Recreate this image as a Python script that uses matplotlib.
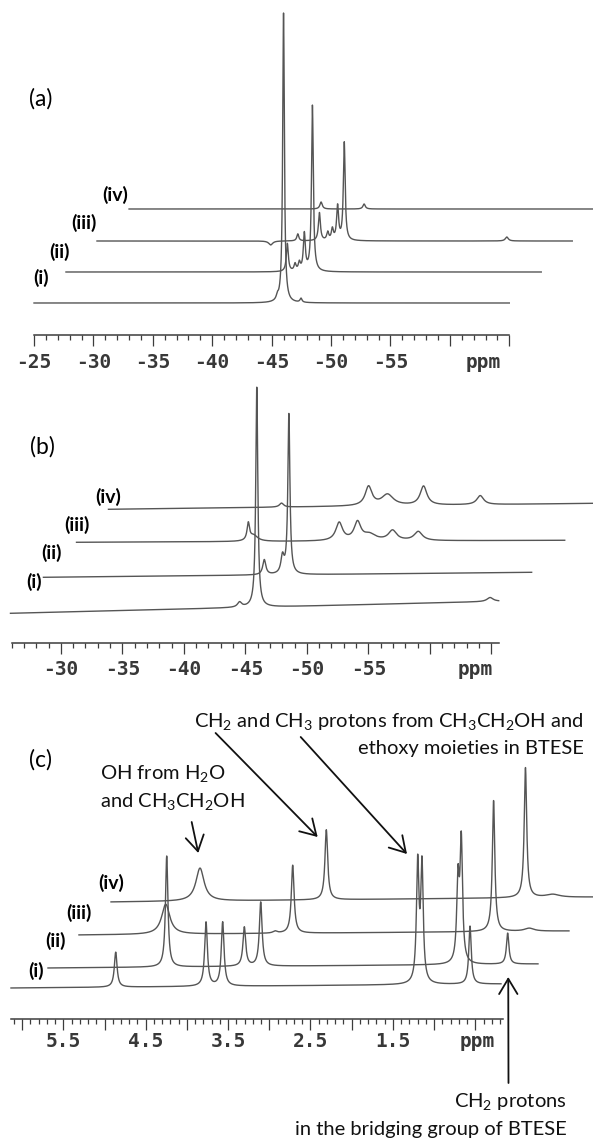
import numpy as np
import matplotlib.pyplot as plt
from matplotlib.ticker import NullFormatter

plt.rcParams['font.family'] = ['Lato', 'DejaVu Sans']
plt.rcParams['mathtext.fontset'] = 'custom'
plt.rcParams['mathtext.rm'] = 'Lato'
plt.rcParams['mathtext.it'] = 'Lato:italic'
plt.rcParams['mathtext.bf'] = 'Lato:bold'

W, H = 593, 1141
TRACE = '#555555'
AXIS = '#3c3c3c'
MONO = 'DejaVu Sans Mono'
names = ['(i)', '(ii)', '(iii)', '(iv)']

# ---- (a) 29Si spectra ----
a_range = (-25.0, -65.0)
a_shift = [0.0, 2.69, 5.30, 8.0]      # ppm stagger of each trace
a_base = [32, 63, 94, 126]            # vertical stagger
a_drift = [0, 0, 0, 0]
a_peaks = [   # (position ppm, height, half width ppm)
    [(-46.00, 290, 0.085), (-45.48, 4, 0.1), (-47.47, 4, 0.1)],
    [(-43.63, 28, 0.1), (-44.28, 7, 0.1), (-44.64, 8, 0.1),
     (-45.06, 37, 0.1), (-45.74, 166, 0.09)],
    [(-39.62, -4, 0.2), (-41.90, 7, 0.1), (-43.72, 28, 0.1), (-44.42, 8, 0.1),
     (-44.81, 11, 0.1), (-45.25, 34, 0.1), (-45.81, 98, 0.09), (-59.49, 4, 0.15)],
    [(-41.16, 7, 0.12), (-44.78, 5, 0.12)],
]
a_labels = ['-25', '-30', '-35', '-40', '-45', '-50', '-55']

# ---- (b) 29Si spectra ----
b_range = (-25.9, -65.6)
b_shift = [0.0, 2.68, 5.37, 7.97]
b_base = [30, 66, 101, 134]
b_drift = [12, 5, 2, 6]
b_peaks = [
    [(-45.93, 220, 0.1), (-44.53, 5, 0.2), (-64.9, 4, 0.3)],
    [(-43.86, 15, 0.15), (-45.34, 17, 0.15), (-45.86, 160, 0.1)],
    [(-39.87, 17, 0.12), (-40.30, 6, 0.4), (-47.26, 18, 0.33), (-48.75, 18, 0.33),
     (-49.73, 6, 0.6), (-51.60, 10, 0.4), (-53.69, 9, 0.4)],
    [(-39.97, 4, 0.2), (-47.05, 19, 0.33), (-48.59, 11, 0.57),
     (-51.52, 19, 0.33), (-56.13, 9, 0.33)],
]
b_labels = ['-30', '-35', '-40', '-45', '-50', '-55']

# ---- (c) 1H spectra ----
c_range = (6.135, 0.188)
c_shift = [0.0, 0.449, 0.825, 1.214]
c_base = [31, 51, 84, 117]
c_drift = [4, 4, 4, 5]
c_peaks = [
    [(4.864, 35, 0.02), (3.768, 64, 0.02), (3.566, 64, 0.02),
     (1.199, 118, 0.018), (1.147, 116, 0.018), (0.564, 58, 0.018)],
    [(4.694, 111, 0.018), (3.752, 39, 0.02), (3.553, 64, 0.02),
     (1.119, 120, 0.018), (1.159, 80, 0.018), (0.556, 31, 0.018)],
    [(5.082, 30, 0.06), (3.755, 2, 0.03), (3.541, 68, 0.02),
     (1.103, 131, 0.018), (0.670, 3, 0.07)],
    [(5.055, 33, 0.06), (3.522, 70, 0.02), (1.105, 130, 0.018), (0.774, 3, 0.1)],
]
c_labels = ['5.5', '4.5', '3.5', '2.5', '1.5']


def px(x, y):
    return x / W, 1 - y / H


def spectrum(x, peaks):
    y = np.zeros_like(x)
    for pos, h, w in peaks:
        y += h / (1 + ((x - pos) / w) ** 2)
    return y


def panel(left, right, axis_y, top, xlim):
    ax = fig.add_axes([left / W, 1 - axis_y / H, (right - left) / W, (axis_y - top) / H])
    ax.set_xlim(*xlim)
    ax.set_ylim(0, axis_y - top)
    ax.patch.set_visible(False)
    for s in ['top', 'right', 'left']:
        ax.spines[s].set_visible(False)
    ax.spines['bottom'].set_color(AXIS)
    ax.spines['bottom'].set_linewidth(1.1)
    ax.set_yticks([])
    ax.tick_params(axis='x', which='major', length=7.7, width=0.9, color=AXIS, direction='out')
    ax.tick_params(axis='x', which='minor', length=3.8, width=0.9, color=AXIS, direction='out')
    ax.xaxis.set_major_formatter(NullFormatter())
    return ax


def stack(ax, rng, shifts, bases, drifts, peaks):
    x = np.linspace(rng[0], rng[1], 9000)
    frac = (x - rng[0]) / (rng[1] - rng[0])
    for s, b, d, pk in zip(shifts, bases, drifts, peaks):
        ax.plot(x - s, b + d * frac + spectrum(x, pk), color=TRACE, lw=1.0, clip_on=False)


def scale_labels(ax, labels, ppm_x, y):
    style = dict(family=MONO, fontsize=14, fontweight='bold', color='#383838',
                 ha='center', va='baseline')
    for lab in labels:
        ax.text(float(lab), y, lab, **style)
    ax.text(ppm_x, y, 'ppm', **style)


def trace_names(spots):
    for n, (x, y) in zip(names, spots):
        fig.text(*px(x, y), n, fontsize=14, fontweight='bold', ha='center', va='center')


fig = plt.figure(figsize=(W / 100, H / 100), dpi=100)

# (a)
ax_a = panel(34, 509.3, 335, 0, (-25, -65))
ax_a.set_xticks(np.arange(-25, -66, -5))
ax_a.set_xticks(np.arange(-25, -66, -1), minor=True)
stack(ax_a, a_range, a_shift, a_base, a_drift, a_peaks)
scale_labels(ax_a, a_labels, -62.8, -33)
trace_names([(41, 278), (59, 252), (84, 223), (115, 195)])
fig.text(*px(41, 99), '(a)', fontsize=16.5, ha='center', va='center')

# (b)
ax_b = panel(11.7, 499.3, 643.3, 350, (-26, -65.65))
ax_b.set_xticks(np.arange(-30, -66, -5))
ax_b.set_xticks(np.arange(-26, -66, -1), minor=True)
stack(ax_b, b_range, b_shift, b_base, b_drift, b_peaks)
scale_labels(ax_b, b_labels, -63.7, -31.7)
trace_names([(34, 582), (52, 553), (77, 525), (108, 497)])
fig.text(*px(42, 447), '(b)', fontsize=16.5, ha='center', va='center')

# (c)
ax_c = panel(11.4, 503.3, 1019, 680, (6.13, 0.16))
ax_c.set_xticks(np.arange(6.0, 0.4, -0.5))
ax_c.set_xticks(np.round(np.arange(6.1, 0.15, -0.1), 1), minor=True)
stack(ax_c, c_range, c_shift, c_base, c_drift, c_peaks)
scale_labels(ax_c, c_labels, 0.48, -28)
trace_names([(36, 971), (56, 941), (79, 913), (111, 883)])
fig.text(*px(41, 760), '(c)', fontsize=16.5, ha='center', va='center')

# peak assignments
note = dict(fontsize=14.5, color='#111111', va='baseline')
fig.text(*px(584, 727), 'CH$_2$ and CH$_3$ protons from CH$_3$CH$_2$OH and', ha='right', **note)
fig.text(*px(584, 754), 'ethoxy moieties in BTESE', ha='right', **note)
fig.text(*px(99.5, 779), 'OH from H$_2$O', ha='left', **note)
fig.text(*px(100, 807), 'and CH$_3$CH$_2$OH', ha='left', **note)
fig.text(*px(566.6, 1107), 'CH$_2$ protons', ha='right', **note)
fig.text(*px(566.6, 1135), 'in the bridging group of BTESE', ha='right', **note)

arrow = dict(arrowstyle='->,head_length=0.55,head_width=0.33', lw=1.3, color='#111111',
             shrinkA=0, shrinkB=0, mutation_scale=20)
for tail, head in [((3.942, 197), (3.862, 166)),
                   ((3.652, 286), (2.413, 182)),
                   ((2.619, 282), (1.329, 165)),
                   ((0.097, -64), (0.100, 42))]:
    ax_c.annotate('', xy=head, xytext=tail, arrowprops=arrow, annotation_clip=False)

fig.savefig('out.png', dpi=100)
